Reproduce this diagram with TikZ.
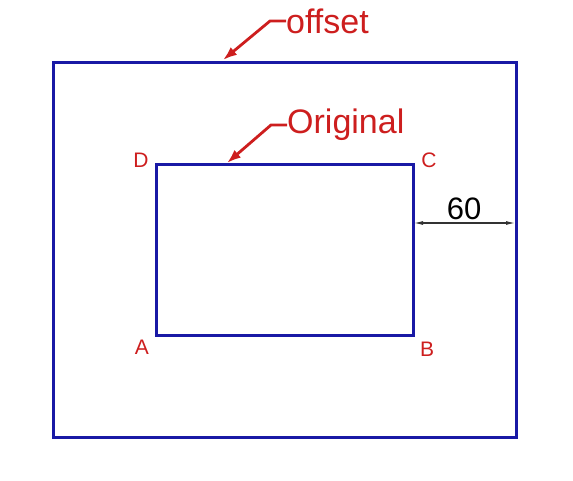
\documentclass[tikz,border=0pt]{standalone}
\usepackage{fontspec}
\setmainfont{Liberation Sans}
\usetikzlibrary{arrows.meta}
\definecolor{cadblue}{RGB}{25,25,165}
\definecolor{cadred}{RGB}{205,30,30}
\tikzset{
  outline/.style={draw=cadblue, line width=3pt},
  leader/.style={draw=cadred, line width=2.8pt, -{Latex[length=14pt, width=10pt]}},
  tag/.style={text=cadred, font=\fontsize{34}{38}\selectfont, inner sep=0pt, anchor=west},
  corner/.style={text=cadred, font=\fontsize{21}{24}\selectfont, inner sep=0pt},
}
\begin{document}
\begin{tikzpicture}[x=1pt, y=-1pt]
\useasboundingbox (0,0) rectangle (573,480);

% rectangles
\coordinate (oA) at (53,437);
\coordinate (oC) at (516,62);
\coordinate (A) at (156,335);
\coordinate (C) at (413,164);
\draw[outline] (oA) rectangle (oC);
\draw[outline] (A) rectangle (C);

% corner letters
\node[corner] (labD) at (141,160) {D};
\node[corner] (labC) at (429,160) {C};
\node[corner] (labA) at (142,347) {A};
\node[corner] (labB) at (427,349) {B};

% leaders
\node[tag] (offset) at (286,21) {offset};
\node[tag] (orig) at (287,125) {Original};
\coordinate (tipO) at (223,60);
\coordinate (tipI) at (227,163);
\draw[leader] (offset.west) -- ++(-16,0) -- (tipO);
\draw[leader] (orig.west) -- ++(-16,0) -- (tipI);

% dimension
\coordinate (d1) at (414,223);
\coordinate (d2) at (515,223);
\draw[black!80, line width=1.1pt, {Latex[length=9pt, width=4pt]}-{Latex[length=9pt, width=4pt]}] (d1) -- (d2);
\node[font=\fontsize{31}{34}\selectfont, inner sep=0pt] (dim) at (464,209) {60};

\end{tikzpicture}
\end{document}
